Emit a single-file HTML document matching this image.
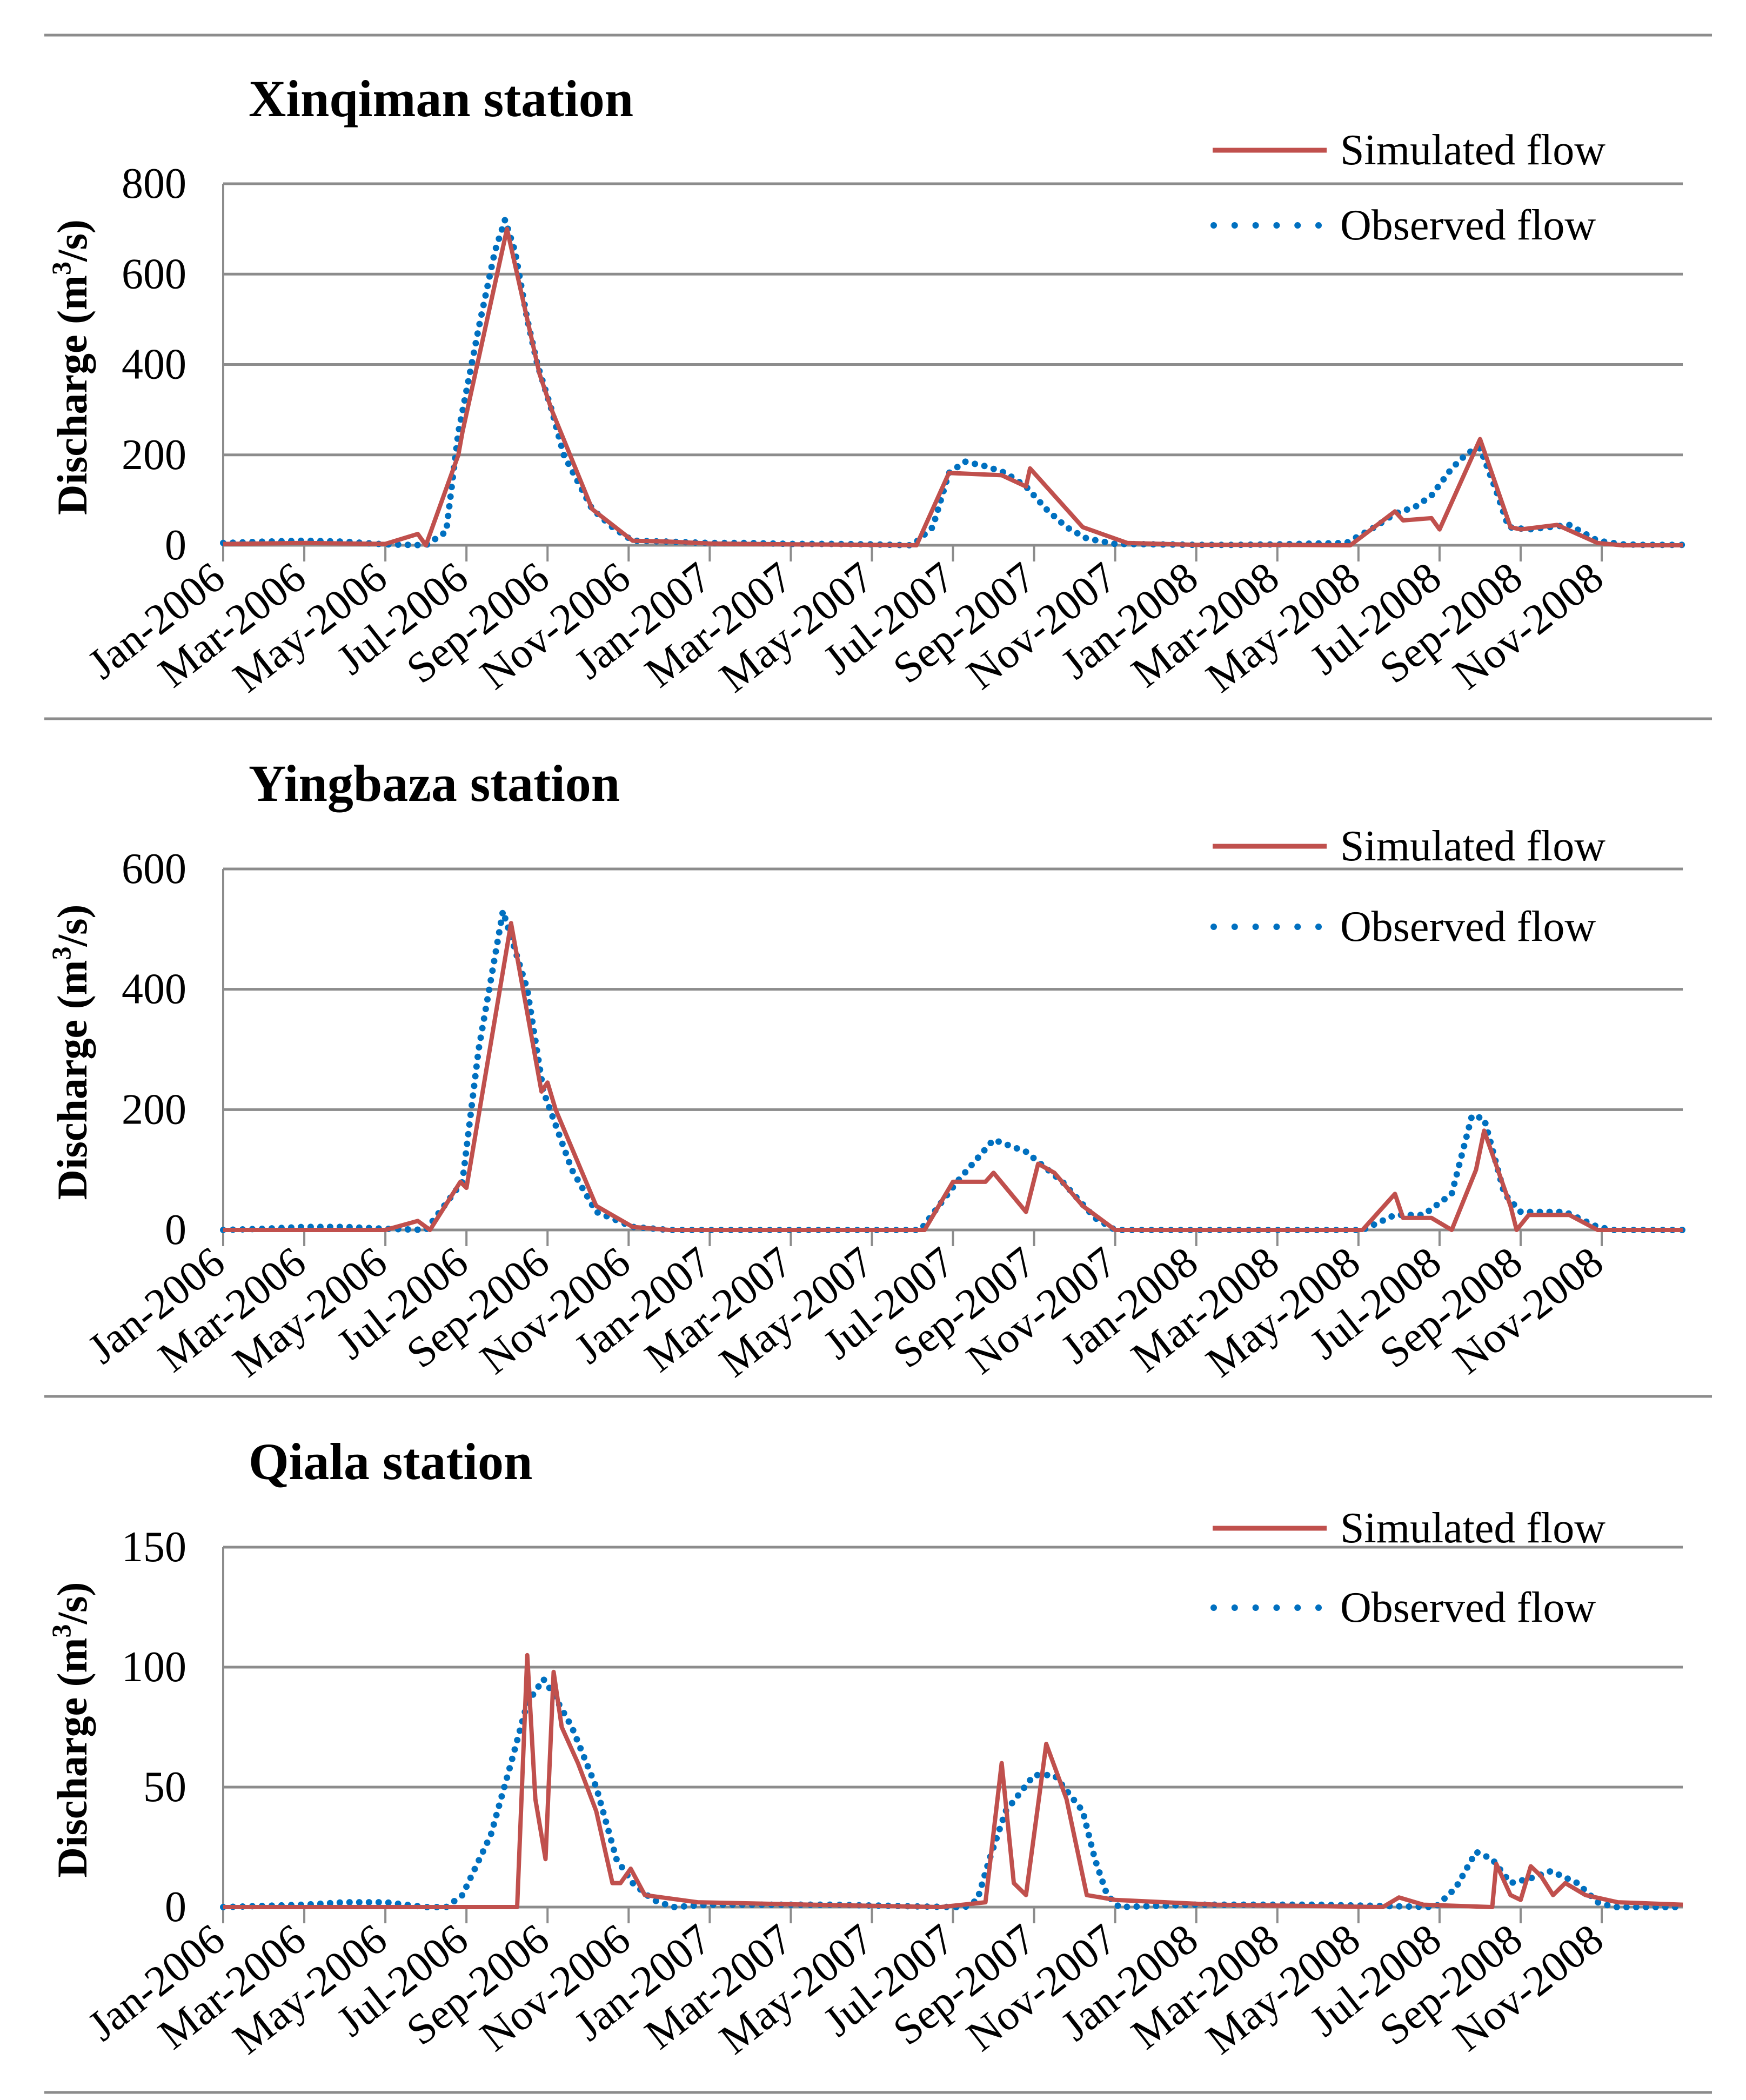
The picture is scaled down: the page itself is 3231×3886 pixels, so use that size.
<!DOCTYPE html>
<html><head><meta charset="utf-8">
<style>
html,body{margin:0;padding:0;background:#fff;}
svg{display:block;}
text{font-family:"Liberation Serif",serif;fill:#000;}
</style></head>
<body>
<svg id="svg" width="3231" height="3886" viewBox="0 0 3231 3886" xmlns="http://www.w3.org/2000/svg"></svg>
<script>
// ---------- data ----------
const monthLabels = ["Jan-2006","Mar-2006","May-2006","Jul-2006","Sep-2006","Nov-2006","Jan-2007","Mar-2007","May-2007","Jul-2007","Sep-2007","Nov-2007","Jan-2008","Mar-2008","May-2008","Jul-2008","Sep-2008","Nov-2008"];
const titles = ["Xinqiman station","Yingbaza station","Qiala station"];
const yTicks1 = [0,200,400,600,800];
const yTicks2 = [0,200,400,600];
const yTicks3 = [0,50,100,150];

// Xinqiman (time in months from Jan-2006)
const obsT1 = [0,1,2,3,4,5,5.5,5.8,6.3,6.7,6.95,7.2,7.5,7.75,8.1,8.4,9.1,9.6,10.1,11,12,13,14,15,16,17,17.5,17.9,18.3,18.8,19.3,19.8,20.3,20.8,21.3,22,23,24,25,26,27,27.7,28.4,28.9,29.4,29.8,30.3,30.7,31.0,31.4,31.7,32.2,32.7,33.2,33.9,34.5,35,36];
const obsV1 = [5,8,10,8,2,0,30,250,480,650,720,650,500,400,300,200,80,40,10,8,5,5,3,3,2,0,40,160,185,175,160,130,80,40,15,3,2,1,1,2,4,5,40,70,85,110,170,205,215,120,40,35,40,45,10,2,1,1];
const simT1 = [0,2,4,4.8,5.0,5.8,5.9,7.0,7.8,8.1,9.1,10.1,11,12,14,16,17.1,17.9,19.2,19.8,19.9,21.2,22.3,24,26,27.8,28.9,29.1,29.8,30.0,31.0,31.75,32,32.9,33.9,34.5,36];
const simV1 = [3,5,3,25,0,200,250,700,380,300,80,10,8,4,2,1,0,160,155,130,170,40,5,1,1,0,75,55,60,35,235,40,35,45,5,0,0];

// Yingbaza
const obsT2 = [0,1,2,3,4,5,5.9,6.3,6.9,7.5,7.9,8.6,9.2,10.1,11,12,14,16,17.2,18.1,19.0,19.8,20.7,21.5,22,24,26,28.1,28.9,29.6,30.3,30.8,31.1,31.6,32,33.1,33.9,34.3,36];
const obsV2 = [0,2,5,5,2,0,80,300,530,400,230,100,30,5,0,0,0,0,0,80,150,130,80,20,0,0,0,0,25,25,60,190,185,60,30,30,5,0,0];
const simT2 = [0,2,4,4.8,5.1,5.85,6.0,7.1,7.85,8.0,8.2,9.2,10.1,11,14,17.3,18.0,18.8,19.0,19.8,20.1,20.5,21.2,22,26,28.1,28.9,29.1,29.8,30.3,30.9,31.1,31.75,31.9,32.2,33.2,33.9,36];
const simV2 = [0,0,0,15,0,80,70,510,230,245,200,40,5,0,0,0,80,80,95,30,110,95,40,0,0,0,60,20,20,0,100,165,40,0,25,25,0,0];

// Qiala
const obsT3 = [0,2,3,4,5,5.5,5.9,6.6,7.1,7.5,7.9,8.1,8.6,9.2,9.7,10.1,10.6,11.1,12,15,18,18.3,18.6,18.9,19.3,20.0,20.5,21.2,21.5,21.8,22.1,24,27,29.9,30.4,30.9,31.3,31.75,32.25,32.75,33.4,33.9,34.3,36];
const obsV3 = [0,1,2,2,0,0,5,30,60,85,95,90,75,50,20,10,3,0,1,1,0,0,3,20,40,55,55,40,20,5,0,1,1,0,8,23,20,10,12,15,10,2,0,0];
const simT3 = [0,7.25,7.5,7.7,7.95,8.15,8.35,8.75,9.2,9.6,9.8,10.05,10.4,11.7,14.5,17.7,18.8,19.2,19.5,19.8,20.3,20.8,21.3,22,24.5,28.6,29.0,29.6,31.3,31.4,31.75,32.0,32.25,32.5,32.8,33.1,33.6,34.4,36];
const simV3 = [0,0,105,45,20,98,75,60,40,10,10,16,5,2,1,0,2,60,10,5,68,45,5,3,1,0,4,1,0,18,5,3,17,13,5,10,5,2,1];

// ---------- drawing ----------
const svg = document.getElementById('svg');
const NS = "http://www.w3.org/2000/svg";
function mk(tag, attrs, parent){ const e=document.createElementNS(NS,tag); for(const k in attrs) e.setAttribute(k,attrs[k]); (parent||svg).appendChild(e); return e; }

const X0 = 413, MW = 75.03;
function xs(t){ return X0 + t*MW; }
const X1 = xs(36);

[65,1330,2584,3872].forEach((y,i)=>{
  const r = mk('line',{x1:82,x2:3168,y1:y,y2:y,stroke:'#8c8c8c','stroke-width':5});
  
  
});

const panels = [
  {key:'xinqiman',title:titles[0],titleY:215,top:340,bot:1009,max:800,ticks:yTicks1,obsT:obsT1,obsV:obsV1,simT:simT1,simV:simV1,legY1:278,legY2:417},
  {key:'yingbaza',title:titles[1],titleY:1482,top:1608,bot:2276,max:600,ticks:yTicks2,obsT:obsT2,obsV:obsV2,simT:simT2,simV:simV2,legY1:1566,legY2:1715},
  {key:'qiala',title:titles[2],titleY:2737,top:2863,bot:3529,max:150,ticks:yTicks3,obsT:obsT3,obsV:obsV3,simT:simT3,simV:simV3,legY1:2828,legY2:2975}
];

panels.forEach(p=>{
  const g = mk('g',{});
  
  
  const ys = v => p.bot - (v/p.max)*(p.bot-p.top);

  const t = mk('text',{x:460,y:p.titleY,'font-size':96,'font-weight':'bold'},g);
  t.textContent = p.title;
  
  

  p.ticks.forEach(v=>{
    const gl = mk('line',{x1:X0,x2:X1,y1:ys(v),y2:ys(v),stroke:'#8c8c8c','stroke-width':5},g);
    
    
    const tl = mk('text',{x:345,y:ys(v)+26,'font-size':80,'text-anchor':'end'},g);
    tl.textContent = v;
    
    
  });
  const ya = mk('line',{x1:X0,x2:X0,y1:p.top,y2:p.bot+30,stroke:'#8c8c8c','stroke-width':4},g);
  
  
  const cy = (p.top+p.bot)/2 + 5;
  const yt = mk('text',{x:0,y:0,'font-size':78,'font-weight':'bold','text-anchor':'middle',transform:`translate(160,${cy}) rotate(-90)`},g);
  yt.innerHTML = 'Discharge (m<tspan font-size="50" dy="-30">3</tspan><tspan dy="30">/s)</tspan>';
  
  

  monthLabels.forEach((lab,i)=>{
    const x = xs(i*2);
    const tk = mk('line',{x1:x,x2:x,y1:p.bot,y2:p.bot+30,stroke:'#8c8c8c','stroke-width':4},g);
    
    
    const xl = mk('text',{x:0,y:0,'font-size':80,'text-anchor':'end',transform:`translate(${x+8},${p.bot+70}) rotate(-38)`},g);
    xl.textContent = lab;
    
    
  });

  const obsPts = p.obsT.map((tt,i)=>xs(tt).toFixed(1)+','+ys(p.obsV[i]).toFixed(1)).join(' ');
  const simPts = p.simT.map((tt,i)=>xs(tt).toFixed(1)+','+ys(p.simV[i]).toFixed(1)).join(' ');
  const obs = mk('polyline',{points:obsPts,fill:'none',stroke:'#0070C0','stroke-width':12,'stroke-linecap':'round','stroke-dasharray':'0 18','stroke-linejoin':'round'},g);
  
  
  const sim = mk('polyline',{points:simPts,fill:'none',stroke:'#C0504D','stroke-width':8,'stroke-linejoin':'round'},g);
  
  

  const l1 = mk('line',{x1:2244,x2:2455,y1:p.legY1,y2:p.legY1,stroke:'#C0504D','stroke-width':9},g);
  
  
  const lt1 = mk('text',{x:2480,y:p.legY1+26,'font-size':80},g);
  lt1.textContent = 'Simulated flow';
  
  
  const l2 = mk('line',{x1:2246,x2:2440,y1:p.legY2,y2:p.legY2,stroke:'#0070C0','stroke-width':12,'stroke-linecap':'round','stroke-dasharray':'0 38.8'},g);
  
  
  const lt2 = mk('text',{x:2480,y:p.legY2+26,'font-size':80},g);
  lt2.textContent = 'Observed flow';
  
  
});
</script>
</body></html>
